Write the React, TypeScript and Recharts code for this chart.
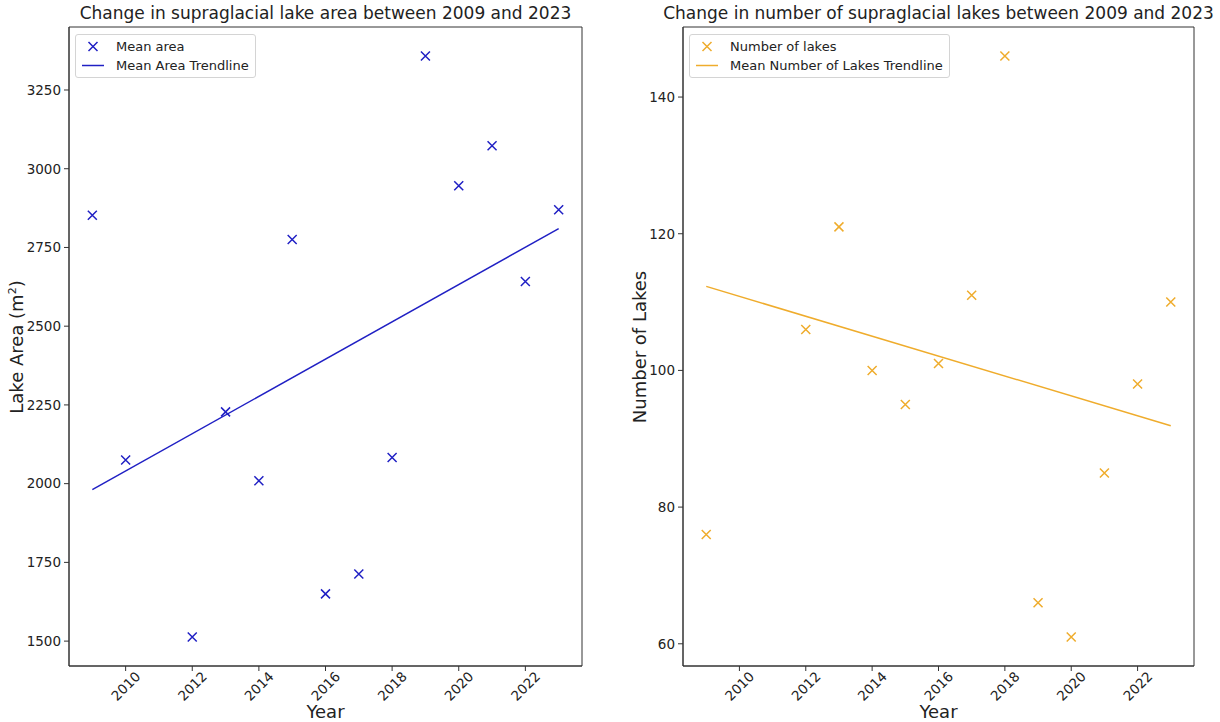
import React from 'react';
import { ReferenceArea, Scatter, ScatterChart, XAxis, YAxis } from 'recharts';

// Mean supraglacial lake area per year (m²)
const AREA_YEARS = [2009, 2010, 2012, 2013, 2014, 2015, 2016, 2017, 2018, 2019, 2020, 2021, 2022, 2023];
const MEAN_AREA = [2852, 2075, 1513, 2228, 2009, 2775, 1650, 1713, 2083, 3358, 2946, 3073, 2642, 2870];
const AREA_TREND_YEARS = [2009, 2023];
const AREA_TREND = [1981, 2810];

// Number of supraglacial lakes per year
const COUNT_YEARS = [2009, 2012, 2013, 2014, 2015, 2016, 2017, 2018, 2019, 2020, 2021, 2022, 2023];
const LAKE_COUNT = [76, 106, 121, 100, 95, 101, 111, 146, 66, 61, 85, 98, 110];
const COUNT_TREND_YEARS = [2009, 2023];
const COUNT_TREND = [112.3, 91.9];

const YEAR_TICKS = [2010, 2012, 2014, 2016, 2018, 2020, 2022];
const AREA_TICKS = [1500, 1750, 2000, 2250, 2500, 2750, 3000, 3250];
const COUNT_TICKS = [60, 80, 100, 120, 140];

const YEAR_DOMAIN: [number, number] = [2008.3, 2023.7];
const AREA_DOMAIN: [number, number] = [1421, 3450];
const COUNT_DOMAIN: [number, number] = [56.75, 150.25];

const BLUE = '#2020c4';
const ORANGE = '#efac2c';
const FONT = '"DejaVu Sans", Verdana, sans-serif';
const TEXT = '#222';
const SPINE = '#333';

const H = 722;
const PLOT_TOP = 27;
const PLOT_BOTTOM = 666;

const toPoints = (xs: number[], ys: number[]) => xs.map((x, i) => ({ x, y: ys[i] }));

const cross = (color: string) => (props: any) => {
  const { cx, cy } = props;
  const r = 4.5;
  return (
    <path
      d={`M${cx - r},${cy - r}L${cx + r},${cy + r}M${cx - r},${cy + r}L${cx + r},${cy - r}`}
      stroke={color}
      strokeWidth={1.5}
      fill="none"
    />
  );
};

const noDot = () => <g />;

const YearTick = (props: any) => {
  const { x, y, payload } = props;
  return (
    <g transform={`translate(${x},${y + 15}) rotate(-45)`}>
      <text textAnchor="middle" dominantBaseline="central" fontSize={13.5} fontFamily={FONT} fill={TEXT}>
        {payload.value}
      </text>
    </g>
  );
};

function Legend({ left, color, marker, line }: { left: number; color: string; marker: string; line: string }) {
  const row: React.CSSProperties = { display: 'flex', alignItems: 'center', height: 19 };
  return (
    <div
      style={{
        position: 'absolute',
        left,
        top: 34,
        padding: '2px 6px 2px 6px',
        border: '1px solid #d4d4d4',
        borderRadius: 3,
        background: '#fff',
        fontFamily: FONT,
        fontSize: 13,
        color: TEXT,
      }}
    >
      <div style={row}>
        <svg width={22} height={19} style={{ marginRight: 12 }}>
          <path d="M6.5,5L15.5,14M6.5,14L15.5,5" stroke={color} strokeWidth={1.5} />
        </svg>
        {marker}
      </div>
      <div style={row}>
        <svg width={22} height={19} style={{ marginRight: 12 }}>
          <line x1={0} y1={9.5} x2={22} y2={9.5} stroke={color} strokeWidth={1.5} />
        </svg>
        {line}
      </div>
    </div>
  );
}

interface PanelProps {
  left: number;
  width: number;
  axisWidth: number;
  rightGap: number;
  title: string;
  yLabel: React.ReactNode;
  yLabelX: number;
  color: string;
  points: { x: number; y: number }[];
  trend: { x: number; y: number }[];
  yDomain: [number, number];
  yTicks: number[];
  legendLeft: number;
  markerName: string;
  lineName: string;
}

function Panel(p: PanelProps) {
  const plotCenterX = (p.axisWidth + p.width - p.rightGap) / 2;
  return (
    <div style={{ position: 'absolute', left: p.left, top: 0, width: p.width, height: H }}>
      <ScatterChart
        width={p.width}
        height={H}
        margin={{ top: PLOT_TOP, right: p.rightGap, bottom: 0, left: 0 }}
      >
        <XAxis
          type="number"
          dataKey="x"
          domain={YEAR_DOMAIN}
          allowDataOverflow
          ticks={YEAR_TICKS}
          height={H - PLOT_BOTTOM}
          tickSize={5}
          tickMargin={0}
          tick={<YearTick />}
          axisLine={{ stroke: SPINE }}
          tickLine={{ stroke: SPINE }}
        />
        <YAxis
          type="number"
          dataKey="y"
          domain={p.yDomain}
          allowDataOverflow
          ticks={p.yTicks}
          width={p.axisWidth}
          tickSize={5}
          tickMargin={3}
          tick={{ fontSize: 13.5, fontFamily: FONT, fill: TEXT }}
          axisLine={{ stroke: SPINE }}
          tickLine={{ stroke: SPINE }}
        />
        <ReferenceArea
          x1={YEAR_DOMAIN[0]}
          x2={YEAR_DOMAIN[1]}
          y1={p.yDomain[0]}
          y2={p.yDomain[1]}
          fill="none"
          stroke={SPINE}
          strokeWidth={1}
        />
        <Scatter
          data={p.trend}
          line={{ stroke: p.color, strokeWidth: 1.5 }}
          shape={noDot}
          isAnimationActive={false}
        />
        <Scatter data={p.points} shape={cross(p.color)} isAnimationActive={false} />
      </ScatterChart>

      <div
        style={{
          position: 'absolute',
          left: plotCenterX - 300,
          width: 600,
          top: 3,
          textAlign: 'center',
          fontFamily: FONT,
          fontSize: 17,
          color: TEXT,
          whiteSpace: 'nowrap',
        }}
      >
        {p.title}
      </div>
      <div
        style={{
          position: 'absolute',
          left: plotCenterX - 50,
          width: 100,
          top: 701,
          textAlign: 'center',
          fontFamily: FONT,
          fontSize: 18,
          color: TEXT,
        }}
      >
        Year
      </div>
      <div
        style={{
          position: 'absolute',
          left: p.yLabelX - 150,
          top: (PLOT_TOP + PLOT_BOTTOM) / 2 - 11,
          width: 300,
          height: 22,
          lineHeight: '22px',
          textAlign: 'center',
          transform: 'rotate(-90deg)',
          fontFamily: FONT,
          fontSize: 18,
          color: TEXT,
          whiteSpace: 'nowrap',
        }}
      >
        {p.yLabel}
      </div>
      <Legend left={p.legendLeft} color={p.color} marker={p.markerName} line={p.lineName} />
    </div>
  );
}

export default function App() {
  return (
    <div style={{ position: 'absolute', left: 0, top: 0, width: 1220, height: H, background: '#fff' }}>
      <Panel
        left={0}
        width={610}
        axisWidth={69}
        rightGap={28}
        title="Change in supraglacial lake area between 2009 and 2023"
        yLabel={
          <span>
            Lake Area (m<span style={{ fontSize: 11, verticalAlign: 'top', lineHeight: '14px' }}>2</span>)
          </span>
        }
        yLabelX={17}
        color={BLUE}
        points={toPoints(AREA_YEARS, MEAN_AREA)}
        trend={toPoints(AREA_TREND_YEARS, AREA_TREND)}
        yDomain={AREA_DOMAIN}
        yTicks={AREA_TICKS}
        legendLeft={75}
        markerName="Mean area"
        lineName="Mean Area Trendline"
      />
      <Panel
        left={610}
        width={610}
        axisWidth={73}
        rightGap={26}
        title="Change in number of supraglacial lakes between 2009 and 2023"
        yLabel="Number of Lakes"
        yLabelX={30}
        color={ORANGE}
        points={toPoints(COUNT_YEARS, LAKE_COUNT)}
        trend={toPoints(COUNT_TREND_YEARS, COUNT_TREND)}
        yDomain={COUNT_DOMAIN}
        yTicks={COUNT_TICKS}
        legendLeft={79}
        markerName="Number of lakes"
        lineName="Mean Number of Lakes Trendline"
      />
    </div>
  );
}
